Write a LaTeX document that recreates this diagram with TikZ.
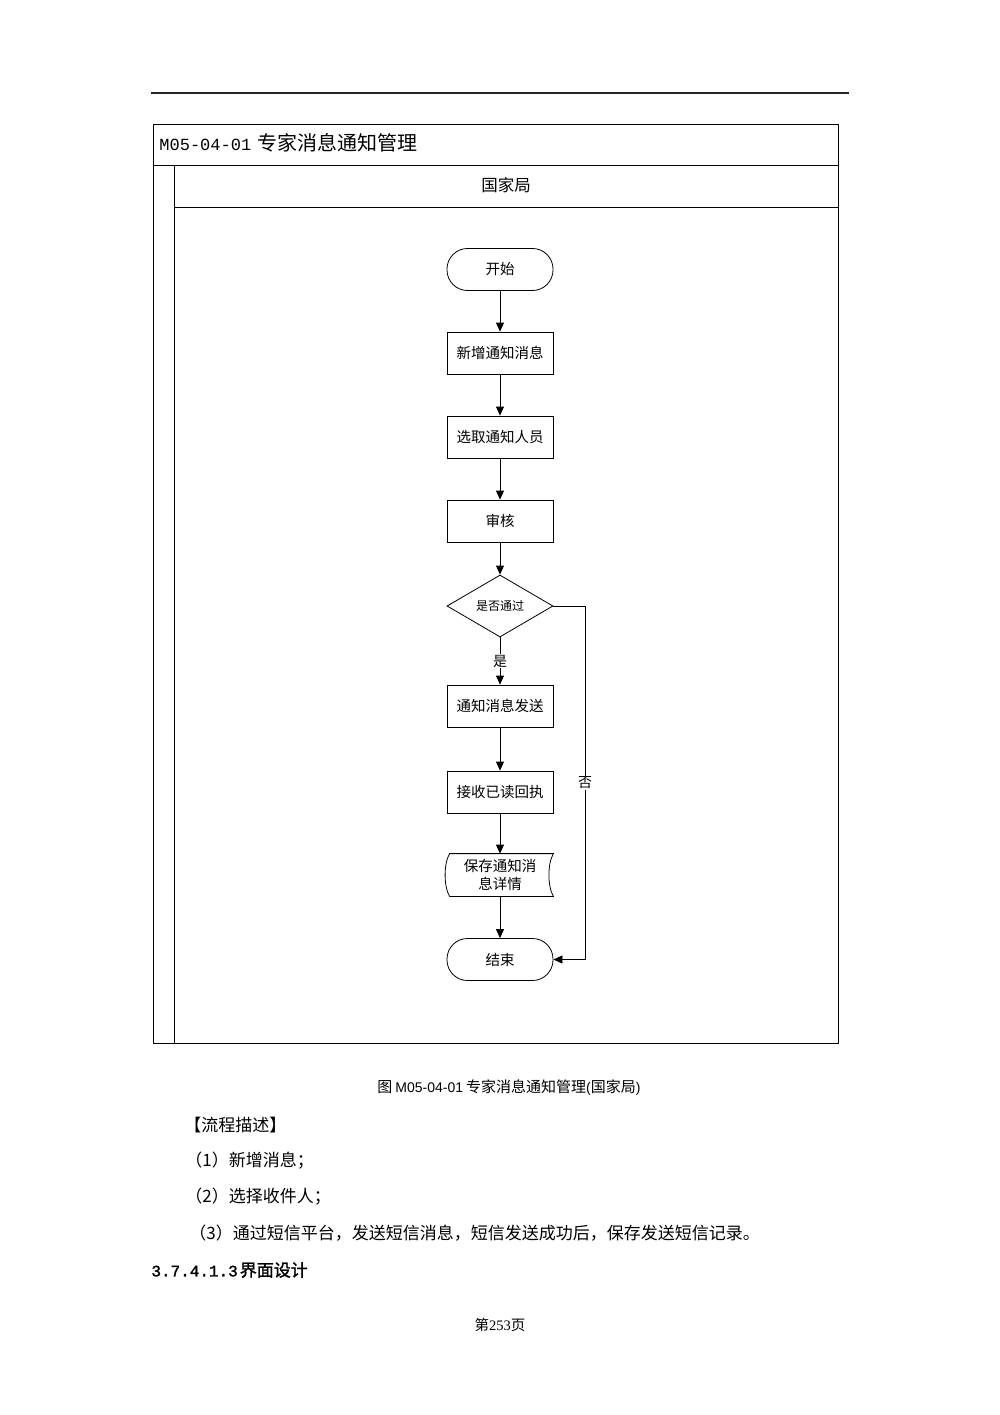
\documentclass[tikz,border=0pt]{standalone}
\usepackage{fontspec}
\newfontfamily\cjk{Noto Sans CJK SC}
\newfontfamily\cjkb[FakeBold=1.5]{Noto Sans CJK SC}
\newfontfamily\lsans{Liberation Sans}
\newfontfamily\lmono{Liberation Mono}
\newfontfamily\lmonob[FakeBold=1.5]{Liberation Mono}
\newfontfamily\lserif{Liberation Serif}
\usetikzlibrary{shapes.geometric,arrows.meta}
\newcommand{\fs}[1]{\fontsize{#1}{#1}\selectfont}
\tikzset{
  proc/.style={draw, rectangle, minimum width=106pt, minimum height=42pt, inner sep=0pt, font=\cjk\fs{14.5}},
  term/.style={proc, rounded corners=20.5pt},
  dec/.style={draw, diamond, minimum width=106pt, minimum height=62pt, inner sep=0pt, font=\cjk\fs{12}},
  lbl/.style={fill=white, inner sep=1pt, font=\cjk\fs{14}},
  txt/.style={inner sep=0pt, anchor=west},
  arr/.style={-{Triangle[length=9pt,width=8pt]}}
}
\begin{document}
\begin{tikzpicture}[x=1pt,y=-1pt,line width=0.8pt]
\useasboundingbox (0,0) rectangle (1000,1415);
\fill[white] (0,0) rectangle (1000,1415);
% top rule
\draw[line width=1.6pt, draw=black!85] (151,93) -- (849,93);
% frame
\draw (153,124) rectangle (838,1043);
\draw (153,165) -- (838,165);
\draw (174,165) -- (174,1043);
\draw (174,207) -- (838,207);
\node[txt] (title) at (159,143) {\lmono\fs{17}M05-04-01\hspace{6pt}\cjk\fs{20}专家消息通知管理};
\node[inner sep=0pt] (lane) at (506,185) {\cjk\fs{16.5}国家局};
% flow
\node[term] (start) at (500,269.5) {开始};
\node[proc] (n1) at (500,353) {新增通知消息};
\node[proc] (n2) at (500,437) {选取通知人员};
\node[proc] (n3) at (500,521) {审核};
\node[dec] (d) at (500,606) {是否通过};
\node[proc] (n4) at (500,706) {通知消息发送};
\node[proc] (n5) at (500,792) {接收已读回执};
\node[proc, draw=none, align=center, font=\cjk\fontsize{14.5}{18}\selectfont] (save) at (500,875) {保存通知消\\息详情};
\draw ([xshift=3pt]save.north west) -- (save.north east)
  .. controls ([shift={(-6pt,-10pt)}]save.north east) and ([shift={(-6pt,10pt)}]save.south east) .. (save.south east)
  -- ([xshift=3pt]save.south west)
  .. controls ([shift={(-3pt,10pt)}]save.south west) and ([shift={(-3pt,-10pt)}]save.north west) .. ([xshift=3pt]save.north west) -- cycle;
\node[term] (end) at (500,959.5) {结束};
\draw[arr] (start) -- (n1);
\draw[arr] (n1) -- (n2);
\draw[arr] (n2) -- (n3);
\draw[arr] (n3) -- (d);
\draw[arr] (d) -- node[lbl]{是} (n4);
\draw[arr] (n4) -- (n5);
\draw[arr] (n5) -- (save);
\draw[arr] (save) -- (end);
\coordinate (c1) at (585,606);
\draw[arr] (d.east) -- (c1) |- node[lbl,pos=0.25]{否} (end.east);
% text below
\node[inner sep=0pt] (cap) at (509,1088) {\cjk\fs{15}图\hspace{3pt}\lsans\fs{14}M05-04-01\hspace{3pt}\cjk\fs{15}专家消息通知管理\lsans\fs{14}(\cjk\fs{15}国家局\lsans\fs{14})};
\node[txt] (t0) at (184,1125) {\cjk\fs{17}【流程描述】};
\node[txt] (t1) at (185,1161) {\cjk\fs{17}（1）新增消息；};
\node[txt] (t2) at (185,1197) {\cjk\fs{17}（2）选择收件人；};
\node[txt] (t3) at (189,1233) {\cjk\fs{17}（3）通过短信平台，发送短信消息，短信发送成功后，保存发送短信记录。};
\node[txt] (h) at (151,1270) {\lmonob\fs{16}3.7.4.1.3\hspace{2pt}\cjkb\fs{17}界面设计};
\node[inner sep=0pt] (pg) at (500,1325) {\cjk\fs{14.5}第\lserif 253\cjk 页};
\end{tikzpicture}
\end{document}
